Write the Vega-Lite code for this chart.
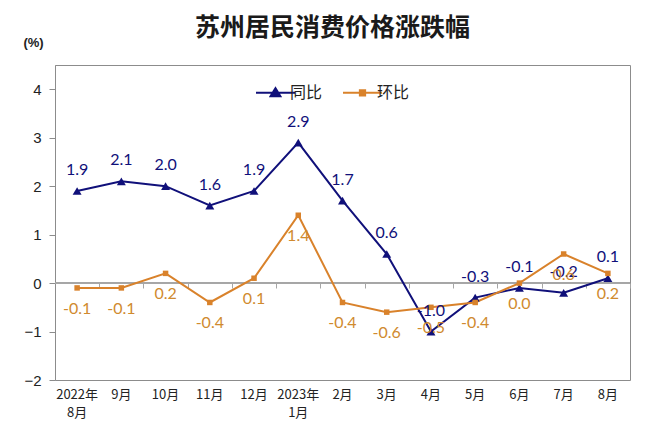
{
  "$schema": "https://vega.github.io/schema/vega-lite/v6.json",
  "autosize": {"type": "none"},
  "width": 575,
  "height": 315,
  "padding": {"left": 55, "top": 65, "right": 30, "bottom": 50},
  "background": "white",
  "config": {
    "view": {"stroke": "#8c8c8c", "strokeWidth": 1},
    "font": "Noto Sans CJK SC"
  },
  "title": {
    "text": "苏州居民消费价格涨跌幅",
    "font": "Noto Sans CJK SC",
    "fontSize": 25,
    "fontWeight": "bold",
    "color": "#1a1a1a",
    "anchor": "middle",
    "frame": "group",
    "dx": -10,
    "dy": 52,
    "offset": 22,
    "baseline": "bottom"
  },
  "data": {
    "values": [
      {"month": "2022年 8月", "series": "同比", "value": 1.9},
      {"month": "9月", "series": "同比", "value": 2.1},
      {"month": "10月", "series": "同比", "value": 2.0},
      {"month": "11月", "series": "同比", "value": 1.6},
      {"month": "12月", "series": "同比", "value": 1.9},
      {"month": "2023年 1月", "series": "同比", "value": 2.9},
      {"month": "2月", "series": "同比", "value": 1.7},
      {"month": "3月", "series": "同比", "value": 0.6},
      {"month": "4月", "series": "同比", "value": -1.0},
      {"month": "5月", "series": "同比", "value": -0.3},
      {"month": "6月", "series": "同比", "value": -0.1},
      {"month": "7月", "series": "同比", "value": -0.2},
      {"month": "8月", "series": "同比", "value": 0.1},
      {"month": "2022年 8月", "series": "环比", "value": -0.1},
      {"month": "9月", "series": "环比", "value": -0.1},
      {"month": "10月", "series": "环比", "value": 0.2},
      {"month": "11月", "series": "环比", "value": -0.4},
      {"month": "12月", "series": "环比", "value": 0.1},
      {"month": "2023年 1月", "series": "环比", "value": 1.4},
      {"month": "2月", "series": "环比", "value": -0.4},
      {"month": "3月", "series": "环比", "value": -0.6},
      {"month": "4月", "series": "环比", "value": -0.5},
      {"month": "5月", "series": "环比", "value": -0.4},
      {"month": "6月", "series": "环比", "value": 0.0},
      {"month": "7月", "series": "环比", "value": 0.6},
      {"month": "8月", "series": "环比", "value": 0.2}
    ]
  },
  "encoding": {
    "x": {
      "field": "month",
      "type": "ordinal",
      "sort": null,
      "scale": {"paddingInner": 0, "paddingOuter": 0},
      "axis": null
    },
    "y": {
      "field": "value",
      "type": "quantitative",
      "scale": {"domain": [-2, 4.5], "nice": false, "zero": false},
      "axis": {
        "orient": "left",
        "values": [-2, -1, 0, 1, 2, 3, 4],
        "domain": true,
        "domainColor": "#8c8c8c",
        "ticks": true,
        "tickColor": "#8c8c8c",
        "tickSize": 6,
        "grid": false,
        "labelFont": "Liberation Sans",
        "labelFontSize": 15,
        "labelColor": "#222222",
        "labelPadding": 8,
        "title": "(%)",
        "titleAngle": 0,
        "titleFont": "Liberation Sans",
        "titleFontSize": 13,
        "titleFontWeight": "bold",
        "titleColor": "#222222",
        "titleAlign": "center",
        "titleBaseline": "middle",
        "titleX": -22,
        "titleY": -23
      }
    }
  },
  "layer": [
    {
      "mark": {"type": "rule", "color": "#a6a6a6", "strokeWidth": 1},
      "encoding": {
        "x": null,
        "y": {"datum": 0, "type": "quantitative"}
      }
    },
    {
      "mark": {"type": "tick", "opacity": 0},
      "encoding": {
        "x": {
          "field": "month",
          "type": "ordinal",
          "sort": null,
          "axis": {
            "orient": "bottom",
            "offset": -97,
            "labels": false,
            "domain": false,
            "ticks": true,
            "tickBand": "extent",
            "tickColor": "#a6a6a6",
            "tickSize": 5,
            "title": null,
            "grid": false
          }
        }
      }
    },
    {
      "mark": {"type": "text", "opacity": 0},
      "encoding": {
        "x": {
          "field": "month",
          "type": "ordinal",
          "sort": null,
          "axis": {
            "orient": "bottom",
            "labelExpr": "split(datum.label, ' ')",
            "labelAngle": 0,
            "labelFont": "Noto Sans CJK SC",
            "labelFontSize": 13,
            "labelColor": "#222222",
            "labelLineHeight": 18,
            "labelPadding": 8,
            "domain": false,
            "ticks": false,
            "title": null,
            "grid": false
          }
        },
        "text": {"value": ""}
      }
    },
    {
      "mark": {"type": "line", "strokeWidth": 2},
      "encoding": {
        "color": {
          "field": "series",
          "type": "nominal",
          "scale": {"domain": ["同比", "环比"], "range": ["#10107a", "#d9822b"]},
          "legend": {
            "orient": "none",
            "direction": "horizontal",
            "legendX": 212,
            "legendY": 19,
            "title": null,
            "labelFont": "Noto Sans CJK SC",
            "labelFontSize": 16,
            "labelColor": "#222222",
            "symbolSize": 225,
            "symbolStrokeWidth": 2,
            "columnPadding": 16,
            "labelOffset": 6,
            "encode": {
              "symbols": {
                "update": {
                  "shape": {"signal": "datum.value === '同比' ? 'M-2.6,0H2.6M-0.65,0.45L0,-0.6L0.65,0.45Z' : 'M-2.6,0H2.6M-0.35,-0.35H0.35V0.35H-0.35Z'"},
                  "fill": {"signal": "datum.value === '同比' ? '#10107a' : '#d9822b'"},
                  "fillOpacity": {"value": 1}
                }
              }
            }
          }
        }
      }
    },
    {
      "mark": {"type": "point", "filled": true, "opacity": 1, "shape": "triangle-up", "size": 80, "color": "#10107a"},
      "transform": [{"filter": "datum.series === '同比'"}]
    },
    {
      "mark": {"type": "point", "filled": true, "opacity": 1, "shape": "square", "size": 30, "color": "#d9822b"},
      "transform": [{"filter": "datum.series === '环比'"}]
    },
    {
      "mark": {"type": "text", "font": "Lato", "fontSize": 16, "baseline": "middle", "dy": -21, "color": "#10107a"},
      "transform": [
        {"filter": "datum.series === '同比'"},
        {"calculate": "replace(format(datum.value, '.1f'), '\u2212', '-')", "as": "label"}
      ],
      "encoding": {"text": {"field": "label", "type": "nominal"}}
    },
    {
      "mark": {"type": "text", "font": "Lato", "fontSize": 16, "baseline": "middle", "dy": 21, "color": "#d08a2e"},
      "transform": [
        {"filter": "datum.series === '环比'"},
        {"calculate": "replace(format(datum.value, '.1f'), '\u2212', '-')", "as": "label"}
      ],
      "encoding": {"text": {"field": "label", "type": "nominal"}}
    }
  ],
  "resolve": {"axis": {"x": "independent"}}
}
